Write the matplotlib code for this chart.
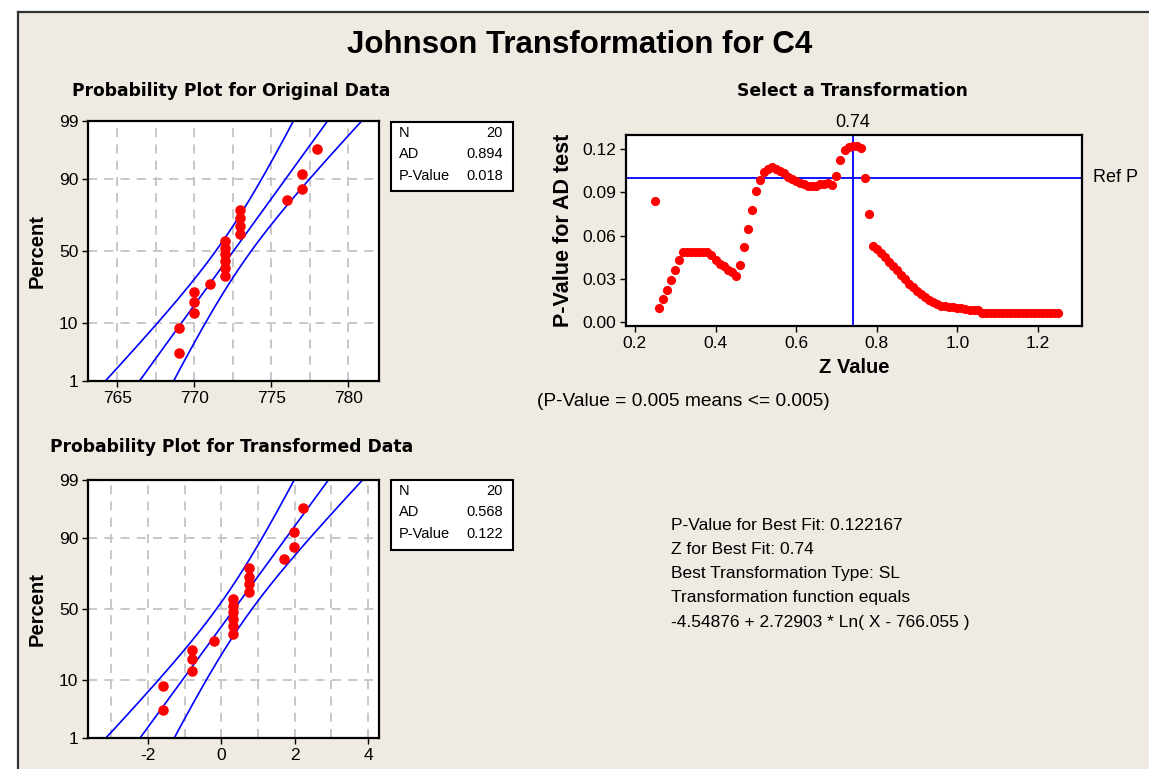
#! /usr/bin/env python3

from statistics import NormalDist
import matplotlib
matplotlib.use("Agg")
import matplotlib.pyplot as plt
from matplotlib.patches import Rectangle
from matplotlib.lines import Line2D
import numpy as np

# ---------- data ----------
orig_data = [769, 769, 770, 770, 770, 771, 772, 772, 772, 772, 772, 772,
             773, 773, 773, 773, 776, 777, 777, 778]
trans_data = [-1.60, -1.60, -0.80, -0.80, -0.80, -0.19, 0.32, 0.32, 0.32, 0.32,
              0.32, 0.32, 0.74, 0.74, 0.74, 0.74, 1.72, 1.98, 1.98, 2.22]
orig_stats = ["20", "0.894", "0.018"]
trans_stats = ["20", "0.568", "0.122"]

z_values = np.round(np.arange(0.25, 1.2501, 0.01), 2)
p_values = [0.0836, 0.0101, 0.0159, 0.0226, 0.0295, 0.0364, 0.0430, 0.0488,
            0.0488, 0.0488, 0.0488, 0.0488, 0.0488, 0.0488, 0.0463, 0.0430,
            0.0405, 0.0388, 0.0365, 0.0345, 0.0322, 0.0396, 0.0518, 0.0642,
            0.0780, 0.0905, 0.0983, 0.1038, 0.1059, 0.1073, 0.1061, 0.1047,
            0.1029, 0.1008, 0.0990, 0.0974, 0.0962, 0.0953, 0.0944, 0.0941,
            0.0944, 0.0953, 0.0958, 0.0960, 0.0948, 0.1015, 0.1123, 0.1192,
            0.1215, 0.1222, 0.1218, 0.1205, 0.1000, 0.0750, 0.0530,
            0.0505, 0.0478, 0.0450, 0.0420, 0.0390, 0.0360, 0.0330, 0.0298,
            0.0268, 0.0243, 0.0220, 0.0198, 0.0175, 0.0155, 0.0138, 0.0125,
            0.0116, 0.0110, 0.0106, 0.0103, 0.0100, 0.0097, 0.0090, 0.0087,
            0.0085, 0.0083] + [0.0063] * 20
best_z = 0.74
ref_p = 0.10

info_lines = ["P-Value for Best Fit: 0.122167",
              "Z for Best Fit: 0.74",
              "Best Transformation Type: SL",
              "Transformation function equals",
              "-4.54876 + 2.72903 * Ln( X - 766.055 )"]

# ---------- helpers ----------
W, H = 1149, 769
BG = "#EFEBE2"
nd = NormalDist()
REG = "Liberation Sans"
BOLD_T = "DejaVu Sans"

def box(l, t, r, b):
	return [l / W, 1 - b / H, (r - l) / W, (b - t) / H]

def fx(x):
	return x / W

def fy(y):
	return 1 - y / H

def prob_plot(ax, data, xlim, xticks, xgrid, stats, box_px):
	n = len(data)
	data = np.sort(np.array(data, dtype=float))
	q = np.array([nd.inv_cdf((i - 0.3) / (n + 0.4)) for i in range(1, n + 1)])
	mu = data.mean()
	s = data.std(ddof=1)
	qq = np.linspace(nd.inv_cdf(0.005), nd.inv_cdf(0.995), 200)
	fit = mu + s * qq
	half = 1.96 * s * np.sqrt(1.0 / n + qq ** 2 / (2.0 * n))
	ylo, yhi = nd.inv_cdf(0.01), nd.inv_cdf(0.99)
	for xv in xgrid:
		ax.axvline(xv, color="#C4C4C4", lw=1.3, dashes=(5, 4), zorder=0)
	for pv in [10, 50, 90]:
		ax.axhline(nd.inv_cdf(pv / 100), color="#C4C4C4", lw=1.3, dashes=(5, 4), zorder=0)
	ax.plot(fit, qq, color="#0000FF", lw=1.2)
	ax.plot(fit - half, qq, color="#0000FF", lw=1.2)
	ax.plot(fit + half, qq, color="#0000FF", lw=1.2)
	ax.plot(data, q, "o", color="#FF0000", ms=7.6, mec="none", zorder=3)
	ax.set_xlim(*xlim)
	ax.set_ylim(ylo, yhi)
	ax.set_xticks(xticks)
	ax.set_xticklabels([str(t) for t in xticks])
	ax.set_yticks([nd.inv_cdf(p / 100) for p in [1, 10, 50, 90, 99]])
	ax.set_yticklabels(["1", "10", "50", "90", "99"])
	ax.set_ylabel("Percent", fontfamily=REG, fontweight="bold", fontsize=14.5, labelpad=9)
	# stats box
	l, t, r, b = box_px
	fig.patches.append(Rectangle((fx(l), fy(b)), fx(r) - fx(l), fy(t) - fy(b),
	                             transform=fig.transFigure, facecolor="white",
	                             edgecolor="black", lw=1.5))
	for k, (lab, val) in enumerate(zip(["N", "AD", "P-Value"], stats)):
		yy = t + 11 + k * 21.5
		fig.text(fx(l + 8), fy(yy), lab, fontfamily=REG, fontsize=10.5, va="center")
		fig.text(fx(r - 10), fy(yy), val, fontfamily=REG, fontsize=10.5, va="center", ha="right")

def style(ax):
	for sp in ax.spines.values():
		sp.set_linewidth(1.6)
	ax.tick_params(direction="out", length=4, width=1, labelsize=12.5, pad=3)
	for lab in ax.get_xticklabels() + ax.get_yticklabels():
		lab.set_fontfamily(REG)

# ---------- figure ----------
fig = plt.figure(figsize=(W / 100, H / 100), dpi=100, facecolor="white")
fig.patches.append(Rectangle((fx(18), 0), 1 - fx(18), fy(12), transform=fig.transFigure,
                             facecolor=BG, edgecolor="none", zorder=-5))
fig.lines.append(Line2D([fx(18), fx(18)], [0, fy(12)], transform=fig.transFigure, color="#333333", lw=1.6))
fig.lines.append(Line2D([fx(18), 1], [fy(12), fy(12)], transform=fig.transFigure, color="#333333", lw=1.6))

fig.text(fx(580), fy(45), "Johnson Transformation for C4", fontfamily=REG,
         fontweight="bold", fontsize=22.5, ha="center", va="center")

# top-left
ax1 = fig.add_axes(box(88, 121, 379, 381))
prob_plot(ax1, orig_data, (763.1, 782.0), [765, 770, 775, 780],
          np.arange(765, 780.1, 2.5), orig_stats, (391, 122, 513, 191))
style(ax1)
fig.text(fx(231), fy(91), "Probability Plot for Original Data", fontfamily=BOLD_T,
         fontweight="bold", fontsize=12.3, ha="center", va="center")

# bottom-left
ax2 = fig.add_axes(box(88, 480, 379, 738))
prob_plot(ax2, trans_data, (-3.64, 4.30), [-2, 0, 2, 4],
          np.arange(-3, 4.1, 1), trans_stats, (391, 480, 513, 550))
style(ax2)
fig.text(fx(232), fy(447), "Probability Plot for Transformed Data", fontfamily=BOLD_T,
         fontweight="bold", fontsize=12.3, ha="center", va="center")

# top-right
ax3 = fig.add_axes(box(626, 135, 1082, 326))
ax3.axhline(ref_p, color="#0000FF", lw=1.3)
ax3.axvline(best_z, color="#0000FF", lw=1.3)
ax3.plot(z_values, p_values, "o", color="#FF0000", ms=6.6, mec="none", zorder=3)
ax3.set_xlim(0.178, 1.309)
ax3.set_ylim(-0.0025, 0.1295)
ax3.set_xticks([0.2, 0.4, 0.6, 0.8, 1.0, 1.2])
ax3.set_xticklabels(["0.2", "0.4", "0.6", "0.8", "1.0", "1.2"])
ax3.set_yticks([0.0, 0.03, 0.06, 0.09, 0.12])
ax3.set_yticklabels(["0.00", "0.03", "0.06", "0.09", "0.12"])
ax3.set_xlabel("Z Value", fontfamily=REG, fontweight="bold", fontsize=14.5, labelpad=5)
ax3.set_ylabel("P-Value for AD test", fontfamily=REG, fontweight="bold", fontsize=15.5, labelpad=6)
style(ax3)
fig.text(fx(852), fy(91), "Select a Transformation", fontfamily=BOLD_T,
         fontweight="bold", fontsize=12.3, ha="center", va="center")
ax3.text(best_z, 1.02, "0.74", transform=ax3.get_xaxis_transform(), fontfamily=REG,
         fontsize=13, ha="center", va="bottom")
ax3.text(1.025, ref_p, "Ref P", transform=ax3.get_yaxis_transform(), fontfamily=REG,
         fontsize=13, ha="left", va="center")
fig.text(fx(537), fy(402), "(P-Value = 0.005 means <= 0.005)", fontfamily=REG,
         fontsize=13.8, ha="left", va="center")

# info text
for k, line in enumerate(info_lines):
	fig.text(fx(671), fy(525 + k * 24.3), line, fontfamily=REG, fontsize=12.5,
	         ha="left", va="center")

fig.savefig("out.png", dpi=100, facecolor=fig.get_facecolor())
